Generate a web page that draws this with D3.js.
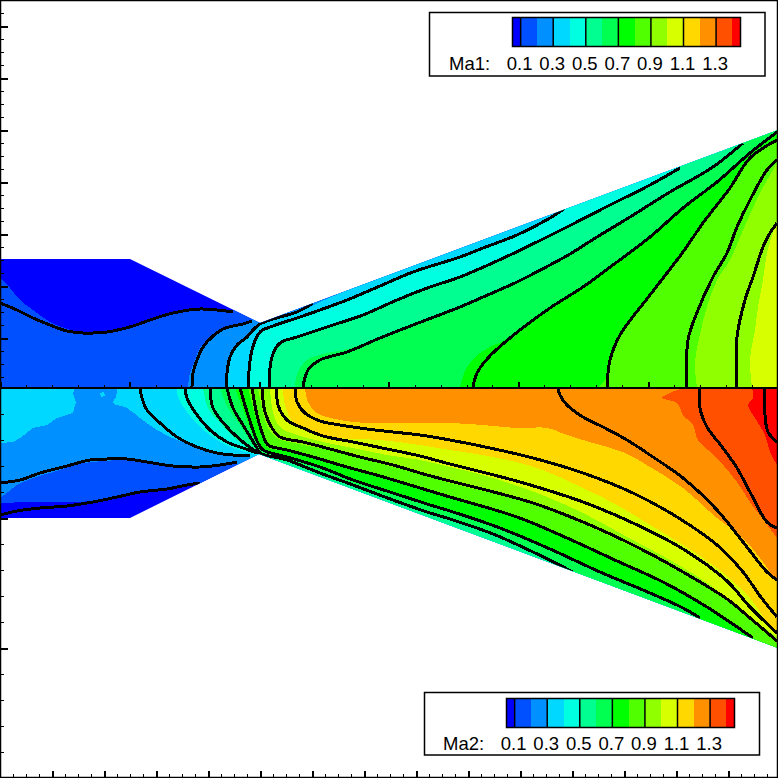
<!DOCTYPE html>
<html>
<head>
<meta charset="utf-8">
<script src="https://cdn.jsdelivr.net/npm/d3@7"></script>
<style>
  html, body { margin: 0; background: #fff; }
  svg { display: block; }
  text { font-family: "Liberation Sans", Arial, sans-serif; font-size: 18.5px; fill: #000; }
</style>
</head>
<body>
<div id="chart"></div>
<script>
// band edges and colours of the legend bar
const levels = [0.1, 0.2, 0.3, 0.4, 0.5, 0.6, 0.7, 0.8, 0.9, 1.0, 1.1, 1.2, 1.3, 1.4];
const barRange = [0.05, 1.45];
const bandColors = ["#0000ff", "#0050ff", "#0090ff", "#00d8ff", "#00ffe0", "#00ff90", "#00ff50", "#00ff00",
                    "#50ff00", "#90ff00", "#d8ff00", "#ffd800", "#ff9000", "#ff5000", "#ff0000"];
const barLabels = [0.1, 0.3, 0.5, 0.7, 0.9, 1.1, 1.3];

// nozzle wall, [x, distance from the axis]
const wallTop = [[0, 128], [130, 128], [260, 64], [778, 257]];
const wallBottom = [[0, 130], [130, 130], [259, 66], [778, 260]];

// Ma1 contour lines, [x, distance from the axis]
const ma1Line01 = [[0, 84], [17, 77], [33, 69], [50, 62], [67, 56], [83, 54], [107, 55], [133, 61], [150, 67], [173, 74], [200, 78], [233, 75]];
const ma1Line02 = [[192, 0], [193, 14], [197, 27], [203, 40], [213, 51], [223, 58], [233, 61], [243, 63], [252, 66]];
const ma1Line03 = [[226, 0], [227, 14], [230, 30], [237, 42], [247, 50], [253, 57], [260, 63], [267, 66], [280, 70], [297, 75], [313, 84]];
const ma1Line04 = [[248, 0], [252, 37], [260, 55], [273, 61], [297, 69], [320, 77], [347, 87], [380, 101], [413, 115], [460, 130], [483, 139], [517, 152], [550, 169], [565, 179]];
const ma1Line05 = [[269, 0], [272, 30], [280, 44], [297, 50], [330, 61], [363, 72], [397, 87], [430, 100], [460, 110], [510, 132], [567, 160], [610, 182], [650, 202], [680, 219]];
const ma1Line06 = [[303, 0], [308, 17], [320, 27], [347, 35], [380, 49], [413, 62], [460, 80], [483, 90], [517, 105], [550, 122], [570, 133], [597, 150], [630, 170], [670, 195], [713, 220], [743, 244]];
const ma1Line07 = [[473, 0], [477, 14], [488, 29], [510, 49], [550, 79], [583, 100], [613, 122], [650, 150], [683, 179], [717, 205], [750, 234], [777, 255]];
const ma1Line08 = [[607, 0], [610, 27], [620, 52], [650, 92], [683, 135], [703, 164], [730, 199], [750, 229], [777, 247]];
const ma1Line09 = [[687, 0], [688, 47], [698, 77], [713, 110], [727, 134], [737, 160], [750, 187], [767, 217], [777, 227]];
const ma1Line10 = [[737, 0], [737, 50], [745, 87], [753, 110], [763, 140], [770, 154], [777, 164]];

// Ma1 flood edges where they leave the contour line
const ma1Band01 = [[0, 109], [10, 99], [20, 87], [33, 77], [50, 65], [67, 58], [83, 54], [107, 55], [133, 61], [150, 67], [173, 74], [200, 78], [233, 75]];
const ma1Band02 = [[188, 0], [190, 14], [195, 27], [200, 39], [213, 51], [223, 58], [233, 61], [243, 63], [252, 66]];
const ma1Band03 = [[225, 0], [226, 14], [229, 30], [236, 42], [247, 50], [253, 57], [260, 63], [267, 66], [280, 70], [297, 74], [318, 84], [345, 96]];
const ma1Band06 = [[295, 0], [297, 13], [307, 27], [323, 33], [347, 38], [380, 49], [413, 62], [460, 80], [483, 90], [517, 105], [550, 122], [570, 133], [597, 150], [630, 170], [670, 195], [713, 220], [743, 244]];
const ma1Band07 = [[460, 0], [467, 20], [480, 34], [510, 50], [550, 79], [583, 100], [613, 122], [650, 150], [683, 179], [717, 205], [750, 234], [777, 255]];
const ma1Band08 = [[598, 0], [607, 10], [613, 37], [622, 57], [650, 92], [683, 135], [703, 164], [730, 199], [750, 229], [777, 247]];
const ma1Band09 = [[697, 0], [695, 24], [700, 53], [707, 80], [717, 107], [730, 127], [743, 157], [760, 194], [777, 224]];
const ma1Band10 = [[752, 0], [750, 27], [755, 57], [758, 80], [763, 107], [767, 134], [775, 160], [777, 164]];

// Ma2 contour lines
const ma2Line01 = [[0, 127], [17, 123], [40, 120], [67, 118], [93, 114], [117, 109], [140, 104], [167, 101], [187, 97], [200, 95]];
const ma2Line02 = [[0, 95], [20, 92], [40, 85], [67, 78], [90, 72], [107, 71], [127, 71], [147, 74], [173, 78], [200, 79], [220, 77], [237, 74]];
const ma2Line03 = [[140, 0], [142, 10], [147, 22], [160, 35], [177, 49], [197, 59], [217, 65], [233, 67], [250, 68]];
const ma2Line04 = [[185, 0], [187, 10], [197, 27], [210, 42], [227, 54], [243, 60], [257, 65]];
const ma2Line05 = [[210, 0], [213, 20], [227, 39], [243, 54], [258, 65]];
const ma2Line06 = [[227, 0], [233, 20], [243, 37], [257, 60], [260, 65], [287, 72], [320, 85], [353, 97], [393, 112], [427, 124], [450, 131], [493, 146], [533, 164], [573, 184]];
const ma2Line07 = [[240, 0], [248, 27], [258, 55], [263, 62], [287, 69], [320, 79], [353, 92], [393, 105], [427, 116], [450, 123], [500, 140], [550, 161], [600, 184], [650, 205], [683, 220], [700, 230]];
const ma2Line08 = [[252, 0], [257, 27], [263, 47], [268, 57], [287, 62], [313, 69], [347, 79], [380, 88], [420, 100], [450, 109], [517, 129], [567, 150], [617, 173], [663, 194], [707, 219], [753, 250]];
const ma2Line09 = [[262, 0], [265, 24], [272, 40], [280, 49], [303, 54], [330, 61], [360, 69], [393, 77], [427, 87], [450, 93], [533, 115], [590, 137], [637, 159], [683, 184], [727, 211], [750, 230], [777, 253]];
const ma2Line10 = [[277, 0], [278, 17], [287, 32], [303, 40], [323, 48], [353, 54], [387, 61], [420, 68], [450, 76], [520, 94], [583, 114], [633, 135], [683, 161], [727, 193], [750, 219], [777, 245]];
const ma2Line11 = [[295, 0], [297, 14], [305, 25], [320, 33], [340, 37], [367, 41], [393, 44], [420, 47], [450, 52], [490, 60], [533, 70], [583, 85], [633, 105], [677, 129], [717, 157], [743, 184], [760, 208], [777, 229]];
const ma2Line12 = [[558, 0], [560, 7], [567, 17], [583, 29], [603, 39], [627, 52], [650, 67], [683, 90], [717, 122], [743, 154], [767, 184], [777, 192]];
const ma2Line13 = [[700, 0], [700, 20], [707, 39], [723, 60], [737, 80], [750, 104], [767, 134], [777, 140]];
const ma2Line14 = [[765, 0], [765, 27], [768, 44], [777, 54]];

// Ma2 flood edges
const ma2Band01 = [[0, 115], [33, 114], [67, 114], [93, 113], [117, 109], [140, 104], [167, 101], [187, 97], [200, 95]];
const ma2Band02 = [[0, 110], [8, 104], [17, 97], [33, 90], [57, 83], [83, 75], [107, 73], [127, 71], [147, 74], [173, 78], [200, 79], [220, 77], [237, 74]];
const ma2Band03 = [[117, 0], [116, 9], [113, 15], [127, 20], [140, 30], [157, 42], [177, 52], [200, 59], [217, 65], [233, 67], [250, 68]];
const ma2Band03Left = [[0, 0], [0, 55], [13, 54], [20, 50], [33, 40], [47, 37], [57, 30], [73, 25], [76, 14], [73, 5], [75, 0]];
const ma2Band03Spot = [[100, 5], [104, 4], [105, 8], [101, 9]];
const ma2Band04 = [[177, 0], [178, 9], [187, 24], [200, 39], [217, 52], [233, 60], [250, 65], [257, 67]];
const ma2Band05 = [[203, 0], [208, 20], [222, 37], [237, 52], [255, 65], [267, 69], [293, 79], [320, 89], [340, 97]];
const ma2Band06 = [[220, 0], [228, 20], [240, 37], [255, 60], [262, 66], [287, 72], [320, 85], [353, 97], [393, 112], [427, 124], [450, 131], [493, 146], [533, 164], [573, 184]];
const ma2Band07 = [[235, 0], [245, 27], [256, 54], [263, 63], [287, 69], [320, 79], [353, 92], [393, 105], [427, 116], [450, 122], [500, 139], [550, 161], [600, 184], [650, 205], [683, 220], [700, 230]];
const ma2Band08 = [[248, 0], [255, 27], [262, 47], [267, 59], [287, 63], [313, 70], [347, 80], [380, 88], [420, 100], [450, 109], [517, 129], [567, 150], [617, 173], [663, 194], [707, 219], [753, 250]];
const ma2Band09 = [[258, 0], [263, 24], [268, 40], [277, 50], [303, 57], [330, 62], [360, 70], [393, 79], [427, 88], [450, 95], [533, 116], [590, 139], [637, 161], [683, 186], [727, 212], [750, 232], [777, 255]];
const ma2Band10 = [[270, 0], [273, 24], [280, 39], [297, 47], [323, 54], [353, 60], [387, 67], [420, 72], [450, 79], [493, 90], [537, 105], [583, 125], [627, 149], [670, 172], [710, 197], [743, 224], [777, 249]];
const ma2Band11 = [[283, 0], [285, 17], [293, 34], [307, 42], [340, 50], [380, 52], [420, 57], [450, 62], [493, 69], [537, 80], [583, 100], [617, 117], [650, 137], [683, 157], [717, 180], [750, 210], [767, 234], [777, 244]];
const ma2Band12 = [[305, 0], [308, 14], [317, 25], [340, 32], [367, 35], [393, 35], [420, 35], [450, 35], [483, 37], [517, 40], [547, 40], [567, 47], [593, 55], [623, 64], [650, 79], [683, 100], [717, 130], [740, 147], [760, 170], [777, 194]];
const ma2Band13 = [[683, 0], [670, 5], [662, 10], [677, 15], [683, 27], [693, 37], [698, 52], [717, 70], [737, 94], [750, 114], [765, 134], [777, 150]];
const ma2Band14 = [[752, 0], [753, 10], [748, 17], [755, 30], [765, 47], [770, 64], [777, 77]];

const ma1Lines = [ma1Line01, ma1Line02, ma1Line03, ma1Line04, ma1Line05, ma1Line06, ma1Line07, ma1Line08, ma1Line09, ma1Line10];
const ma1Bands = [ma1Band01, ma1Band02, ma1Band03, ma1Line04, ma1Line05, ma1Band06, ma1Band07, ma1Band08, ma1Band09, ma1Band10];
const ma2Lines = [ma2Line01, ma2Line02, ma2Line03, ma2Line04, ma2Line05, ma2Line06, ma2Line07, ma2Line08, ma2Line09, ma2Line10, ma2Line11, ma2Line12, ma2Line13, ma2Line14];
const ma2Bands = [ma2Band01, ma2Band02, ma2Band03, ma2Band04, ma2Band05, ma2Band06, ma2Band07, ma2Band08, ma2Band09, ma2Band10, ma2Band11, ma2Band12, ma2Band13, ma2Band14];

const size = 778;
const svg = d3.select("#chart").append("svg")
    .attr("width", size)
    .attr("height", size);

const x = d3.scaleLinear().domain([0, 778]).range([0, 778]);
const yTop = d3.scaleLinear().domain([0, 387]).range([387, 0]);
const yBottom = d3.scaleLinear().domain([0, 390]).range([388, 778]);

// one half of the nozzle: flood bands painted low to high, then the contour lines
function drawField(id, y, wall, bands, lines, extras) {
    const curve = d3.line().x(d => x(d[0])).y(d => y(d[1])).curve(d3.curveCatmullRom.alpha(0.5));
    const straight = d3.line().x(d => x(d[0])).y(d => y(d[1]));

    svg.append("clipPath").attr("id", id)
      .append("path")
        .attr("d", straight([...wall, [778, 0], [0, 0]]) + "Z");

    const g = svg.append("g").attr("clip-path", `url(#${id})`);

    g.append("rect")
        .attr("width", size).attr("height", size)
        .style("fill", bandColors[0]);

    bands.forEach((pts, i) => {
        const first = pts[0], last = pts[pts.length - 1];
        // close the region on its high-speed side, outside the clip
        const tail = last[0] >= 777
            ? [[800, last[1]], [800, -5], [first[0], -5]]
            : [[last[0], 420], [800, 420], [800, -5], [first[0], -5]];
        if (first[0] <= 0) tail.push([-5, -5], [-5, first[1]]);
        const closing = tail.map(d => `L${x(d[0])},${y(d[1])}`).join("");
        g.append("path")
            .attr("d", curve(pts) + closing + "Z")
            .style("fill", bandColors[i + 1])
            .attr("shape-rendering", "crispEdges");
        (extras[i] || []).forEach(p => {
            g.append("path")
                .attr("d", straight(p) + "Z")
                .style("fill", bandColors[i + 1])
                .attr("shape-rendering", "crispEdges");
        });
    });

    g.selectAll("path.iso")
        .data(lines)
        .enter().append("path")
        .attr("class", "iso")
        .attr("d", curve)
        .style("fill", "none")
        .style("stroke", "#000")
        .style("stroke-width", 3)
        .attr("shape-rendering", "crispEdges");
}

drawField("clipTop", yTop, wallTop, ma1Bands, ma1Lines, {});
drawField("clipBottom", yBottom, wallBottom, ma2Bands, ma2Lines, {2: [ma2Band03Left, ma2Band03Spot]});

// tick marks, no labels in this figure
function ticks(axis, values, len, width, tx, ty) {
    const g = svg.append("g")
        .attr("transform", `translate(${tx},${ty})`)
        .call(axis.tickValues(values).tickSize(len).tickFormat(""));
    g.select(".domain").remove();
    g.selectAll("line").attr("stroke", "#000").attr("stroke-width", width).attr("shape-rendering", "crispEdges");
}

// shared axis line between the two halves
const axisMajor = d3.range(0, 778, 129.6);
const axisMinor = d3.range(0, 778, 25.92);
ticks(d3.axisTop(x), axisMinor, 2, 1, 0, 387);
ticks(d3.axisTop(x), axisMajor, 5, 2, 0, 387);
svg.append("rect")
    .attr("x", 0).attr("y", 387)
    .attr("width", size).attr("height", 2)
    .style("fill", "#000");

// left edge
ticks(d3.axisRight(yTop), d3.range(10, 387, 13), 4, 1, 0, 0);
ticks(d3.axisRight(yTop), d3.range(49, 387, 52), 8, 2, 0, 0);
ticks(d3.axisRight(yBottom), d3.range(26, 390, 26), 4, 1, 0, 0);
ticks(d3.axisRight(yBottom), d3.range(130, 390, 130), 8, 2, 0, 0);

// bottom edge
ticks(d3.axisTop(x), d3.range(13, 778, 13), 3, 1, 0, 777);
ticks(d3.axisTop(x), d3.range(52, 778, 52), 6, 2, 0, 777);

// frame
svg.append("rect")
    .attr("x", 0.5).attr("y", 0.5)
    .attr("width", size - 1).attr("height", size - 1)
    .style("fill", "none")
    .style("stroke", "#000")
    .style("stroke-width", 1.5);

// legend box with colour bar
function drawLegend(title, box, bar, titleX, baseY) {
    svg.append("rect")
        .attr("x", box.x).attr("y", box.y)
        .attr("width", box.w).attr("height", box.h)
        .style("fill", "#fff")
        .style("stroke", "#000")
        .style("stroke-width", 1.5);

    const bx = d3.scaleLinear().domain(barRange).range([bar.x0, bar.x1]);
    const edges = [barRange[0], ...levels, barRange[1]];

    svg.selectAll(null)
        .data(bandColors)
        .enter().append("rect")
        .attr("x", (d, i) => bx(edges[i]))
        .attr("y", bar.y)
        .attr("width", (d, i) => bx(edges[i + 1]) - bx(edges[i]))
        .attr("height", bar.h)
        .style("fill", d => d)
        .attr("shape-rendering", "crispEdges");

    const g = svg.append("g");
    g.selectAll("line")
        .data(barLabels)
        .enter().append("line")
        .attr("x1", d => bx(d)).attr("x2", d => bx(d))
        .attr("y1", bar.y).attr("y2", bar.y + bar.h)
        .style("stroke", "#000")
        .style("stroke-width", 1.5);

    svg.append("rect")
        .attr("x", bar.x0).attr("y", bar.y)
        .attr("width", bar.x1 - bar.x0).attr("height", bar.h)
        .style("fill", "none")
        .style("stroke", "#000")
        .style("stroke-width", 1.5);

    g.selectAll("text")
        .data(barLabels)
        .enter().append("text")
        .attr("x", d => bx(d) - 1)
        .attr("y", baseY)
        .attr("text-anchor", "middle")
        .text(d => d.toFixed(1));

    svg.append("text")
        .attr("x", titleX)
        .attr("y", baseY)
        .text(title);
}

drawLegend("Ma1:", {x: 429.5, y: 12.5, w: 335.5, h: 63.5}, {x0: 512.5, x1: 740.5, y: 17.5, h: 29}, 449, 70);
drawLegend("Ma2:", {x: 424.5, y: 692.5, w: 335, h: 62.5}, {x0: 506.5, x1: 734.5, y: 698.5, h: 29}, 443, 750);
</script>
</body>
</html>
